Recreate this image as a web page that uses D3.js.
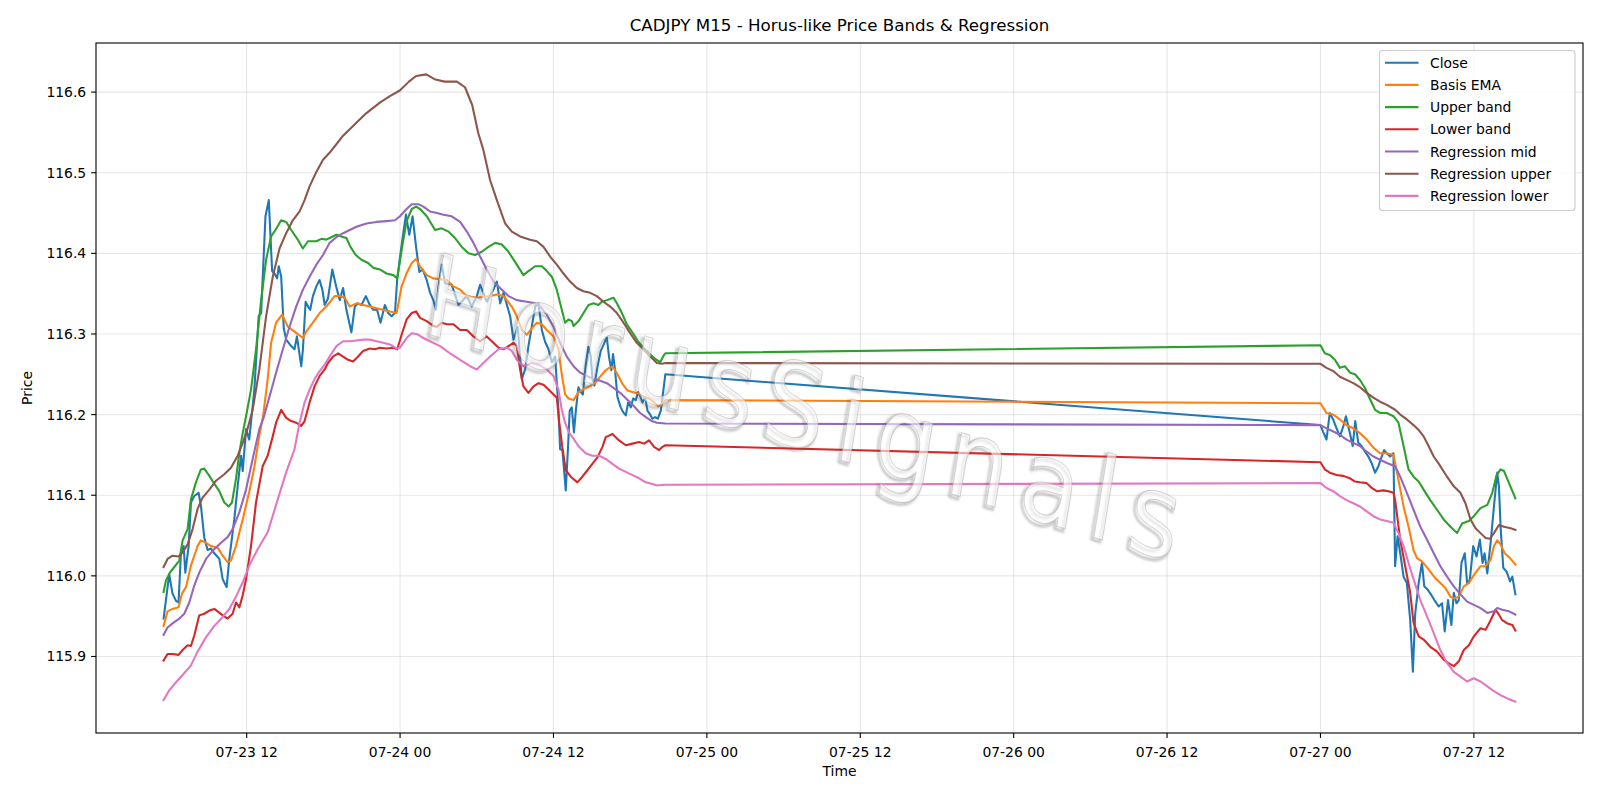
<!DOCTYPE html>
<html><head><meta charset="utf-8">
<script src="https://cdn.jsdelivr.net/npm/d3@7/dist/d3.min.js"></script>
<style>html,body{margin:0;padding:0;background:#fff;}svg{display:block;font-family:"DejaVu Sans",sans-serif;}</style>
</head><body><svg id="c" width="1600" height="800"></svg>
<script>
// time = hours since 2025-07-23 00:00 (UTC); value = CADJPY price
const closeSeries = [[5.5,115.947],[5.94,116.002],[6.2,115.978],[6.47,115.969],[6.67,115.967],[6.86,116.029],[7.07,116.037],[7.2,116.004],[7.46,116.037],[7.64,116.091],[7.9,116.099],[8.24,116.103],[8.42,116.087],[8.68,116.048],[8.94,116.032],[9.2,116.034],[9.47,116.028],[9.86,116.021],[10.12,115.996],[10.43,115.986],[10.64,116.021],[11.03,116.07],[11.3,116.112],[11.56,116.149],[11.69,116.13],[11.95,116.182],[12.2,116.169],[12.6,116.231],[12.94,116.322],[13.13,116.326],[13.47,116.446],[13.73,116.466],[13.99,116.378],[14.17,116.375],[14.38,116.369],[14.51,116.384],[14.7,116.371],[14.9,116.307],[15.09,116.293],[15.48,116.285],[15.74,116.281],[15.93,116.297],[16.27,116.26],[16.4,116.281],[16.61,116.34],[16.8,116.334],[16.97,116.33],[17.18,116.347],[17.45,116.359],[17.7,116.367],[17.92,116.355],[18.1,116.336],[18.36,116.344],[18.7,116.38],[19.0,116.359],[19.28,116.342],[19.54,116.357],[19.8,116.33],[20.19,116.302],[20.46,116.334],[20.72,116.338],[20.98,116.336],[21.32,116.347],[21.63,116.336],[21.9,116.33],[22.2,116.33],[22.47,116.314],[22.81,116.336],[23.07,116.326],[23.34,116.322],[23.6,116.326],[23.78,116.369],[24.0,116.396],[24.25,116.425],[24.46,116.448],[24.72,116.423],[24.98,116.446],[25.25,116.408],[25.51,116.377],[25.77,116.38],[26.08,116.367],[26.35,116.351],[26.6,116.342],[26.8,116.33],[27.0,116.359],[27.26,116.386],[27.52,116.363],[28.04,116.361],[28.57,116.336],[29.22,116.347],[29.61,116.334],[30.0,116.347],[30.26,116.361],[30.78,116.34],[31.3,116.355],[31.57,116.365],[31.83,116.338],[32.09,116.351],[32.61,116.322],[32.87,116.293],[33.2,116.309],[33.39,116.271],[33.52,116.244],[33.78,116.256],[34.04,116.285],[34.3,116.309],[34.57,116.334],[34.83,116.338],[35.09,116.305],[35.35,116.29],[35.61,116.281],[35.87,116.265],[36.13,116.272],[36.39,116.206],[36.52,116.157],[36.7,116.156],[36.96,116.106],[37.14,116.16],[37.27,116.205],[37.43,116.209],[37.6,116.178],[37.75,116.205],[37.95,116.234],[38.13,116.228],[38.3,116.225],[38.52,116.261],[38.73,116.284],[38.91,116.273],[39.04,116.246],[39.2,116.236],[39.44,116.259],[39.7,116.279],[39.96,116.288],[40.17,116.296],[40.35,116.271],[40.53,116.255],[40.66,116.275],[40.82,116.255],[41.0,116.222],[41.26,116.209],[41.45,116.203],[41.66,116.199],[41.84,116.215],[42.05,116.209],[42.23,116.22],[42.44,116.218],[42.62,116.228],[42.8,116.222],[42.96,116.215],[43.17,116.222],[43.35,116.205],[43.53,116.201],[43.74,116.195],[43.95,116.197],[44.16,116.195],[44.4,116.205],[44.75,116.25],
[96.0,116.187],[96.2,116.179],[96.47,116.169],[96.73,116.202],[96.99,116.194],[97.26,116.183],[97.52,116.173],[97.78,116.185],[97.99,116.198],[98.25,116.181],[98.52,116.161],[98.72,116.192],[98.96,116.165],[99.22,116.161],[99.48,116.154],[99.75,116.148],[100.0,116.14],[100.27,116.128],[100.53,116.136],[100.79,116.148],[100.98,116.156],[101.19,116.152],[101.45,116.148],[101.71,116.152],[101.84,116.012],[102.03,116.049],[102.24,116.028],[102.5,115.999],[102.76,115.991],[103.02,115.945],[103.23,115.881],[103.41,115.953],[103.68,115.991],[103.94,116.016],[104.12,115.987],[104.38,115.983],[104.65,115.977],[104.91,115.97],[105.25,115.962],[105.51,115.966],[105.72,115.931],[105.98,115.97],[106.24,115.939],[106.43,115.979],[106.64,115.966],[106.82,115.97],[107.03,116.016],[107.29,116.028],[107.47,115.991],[107.68,115.995],[107.95,116.037],[108.21,116.024],[108.47,116.045],[108.68,116.016],[108.84,116.028],[109.05,116.003],[109.31,116.041],[109.57,116.086],[109.83,116.128],[109.96,116.111],[110.09,116.061],[110.3,116.01],[110.57,116.005],[110.83,115.993],[111.01,115.999],[111.25,115.977]];

const basisEma = [[5.5,115.938],[5.81,115.956],[6.2,115.959],[6.67,115.961],[6.94,115.978],[7.25,115.986],[7.64,116.013],[8.16,116.037],[8.42,116.044],[8.82,116.041],[9.21,116.037],[9.73,116.035],[10.12,116.025],[10.51,116.017],[10.77,116.019],[11.16,116.037],[11.69,116.07],[12.21,116.105],[12.6,116.135],[12.95,116.17],[13.3,116.2],[13.65,116.245],[13.91,116.289],[14.3,116.314],[14.77,116.324],[15.22,116.309],[15.74,116.303],[16.4,116.295],[16.66,116.303],[17.18,116.314],[17.71,116.326],[18.23,116.334],[18.88,116.347],[19.28,116.347],[19.67,116.345],[20.06,116.334],[20.59,116.338],[21.11,116.336],[21.63,116.334],[22.15,116.332],[22.68,116.33],[23.2,116.328],[23.73,116.326],[24.12,116.359],[24.5,116.375],[24.91,116.388],[25.25,116.393],[25.56,116.384],[26.08,116.373],[26.6,116.369],[27.1,116.368],[27.65,116.367],[28.17,116.359],[28.7,116.355],[29.22,116.347],[30.0,116.345],[31.04,116.347],[31.57,116.349],[32.09,116.347],[32.74,116.334],[33.13,116.322],[33.52,116.305],[33.91,116.299],[34.3,116.307],[34.7,116.314],[35.09,116.312],[35.48,116.305],[36.0,116.297],[36.39,116.281],[36.65,116.25],[36.91,116.225],[37.17,116.22],[37.57,116.218],[37.96,116.228],[38.4,116.232],[38.91,116.236],[39.3,116.24],[39.7,116.248],[40.09,116.255],[40.35,116.258],[40.66,116.259],[41.0,116.25],[41.4,116.238],[41.79,116.23],[42.18,116.228],[42.7,116.226],[43.09,116.222],[43.48,116.22],[43.87,116.215],[44.21,116.21],[44.45,116.212],[44.75,116.218],
[96.0,116.214],[96.47,116.202],[97.0,116.2],[97.52,116.194],[98.04,116.187],[98.57,116.183],[99.09,116.177],[99.62,116.169],[100.14,116.159],[100.66,116.152],[101.19,116.152],[101.71,116.15],[102.1,116.119],[102.5,116.086],[102.89,116.061],[103.28,116.032],[103.55,116.022],[103.94,116.018],[104.46,116.008],[104.99,115.997],[105.38,115.991],[105.77,115.985],[106.17,115.974],[106.43,115.972],[106.82,115.974],[107.21,115.987],[107.61,115.991],[108.0,116.001],[108.52,116.012],[108.92,116.012],[109.31,116.02],[109.57,116.037],[109.83,116.044],[110.09,116.039],[110.41,116.028],[110.83,116.022],[111.25,116.014]];

const upperBand = [[5.5,115.98],[5.68,115.994],[5.99,116.004],[6.34,116.011],[6.73,116.019],[6.99,116.044],[7.38,116.058],[7.64,116.095],[8.03,116.116],[8.42,116.132],[8.68,116.133],[9.08,116.124],[9.47,116.114],[9.86,116.105],[10.25,116.091],[10.59,116.086],[10.85,116.091],[11.16,116.12],[11.43,116.153],[11.69,116.177],[11.95,116.198],[12.34,116.231],[12.73,116.281],[13.13,116.342],[13.52,116.392],[13.91,116.421],[14.25,116.429],[14.7,116.441],[15.09,116.439],[15.48,116.429],[16.0,116.417],[16.4,116.406],[16.79,116.415],[17.45,116.415],[17.84,116.418],[18.23,116.417],[18.62,116.42],[19.02,116.423],[19.41,116.421],[19.8,116.419],[20.12,116.408],[20.53,116.398],[20.98,116.392],[21.5,116.388],[21.9,116.382],[22.42,116.38],[22.94,116.375],[23.47,116.373],[23.78,116.369],[24.12,116.404],[24.51,116.44],[24.91,116.455],[25.25,116.458],[25.56,116.455],[26.09,116.446],[26.74,116.429],[27.26,116.431],[27.78,116.427],[28.3,116.419],[28.83,116.408],[29.35,116.4],[29.87,116.398],[30.39,116.402],[30.91,116.408],[31.44,116.413],[31.96,116.411],[32.48,116.402],[33.13,116.386],[33.65,116.373],[34.04,116.378],[34.57,116.384],[35.09,116.384],[35.48,116.378],[35.87,116.371],[36.26,116.355],[36.65,116.33],[36.91,116.314],[37.17,116.318],[37.44,116.316],[37.57,116.31],[37.96,116.316],[38.35,116.326],[38.74,116.336],[39.13,116.338],[39.52,116.336],[39.78,116.34],[40.18,116.342],[40.7,116.345],[40.96,116.338],[41.35,116.326],[41.74,116.312],[42.26,116.3],[42.65,116.29],[43.04,116.283],[43.57,116.275],[43.96,116.269],[44.35,116.265],[44.61,116.273],[44.75,116.276],
[96.0,116.286],[96.34,116.276],[96.73,116.274],[97.13,116.268],[97.52,116.258],[97.91,116.26],[98.31,116.252],[98.7,116.25],[99.09,116.243],[99.48,116.233],[99.88,116.219],[100.27,116.206],[100.66,116.202],[101.19,116.202],[101.71,116.198],[102.1,116.19],[102.5,116.161],[102.89,116.132],[103.28,116.123],[103.68,116.117],[104.07,116.107],[104.59,116.094],[105.12,116.082],[105.64,116.07],[106.17,116.061],[106.69,116.053],[107.08,116.065],[107.61,116.068],[108.0,116.074],[108.52,116.084],[109.05,116.088],[109.44,116.103],[109.78,116.125],[110.09,116.132],[110.36,116.13],[110.75,116.115],[111.25,116.096]];

const lowerBand = [[5.5,115.895],[5.81,115.903],[6.2,115.903],[6.67,115.902],[6.99,115.908],[7.38,115.914],[7.64,115.913],[7.9,115.926],[8.29,115.951],[8.68,115.953],[9.08,115.957],[9.47,115.959],[9.73,115.956],[10.12,115.951],[10.51,115.947],[10.9,115.953],[11.16,115.967],[11.43,115.961],[11.69,115.976],[11.95,115.996],[12.34,116.037],[12.73,116.091],[13.25,116.136],[13.64,116.149],[14.04,116.173],[14.3,116.19],[14.7,116.206],[15.09,116.196],[15.48,116.192],[15.87,116.19],[16.27,116.186],[16.53,116.192],[16.92,116.215],[17.31,116.235],[17.71,116.248],[18.1,116.256],[18.36,116.264],[18.75,116.272],[19.15,116.276],[19.54,116.272],[19.93,116.268],[20.32,116.266],[20.72,116.272],[21.11,116.279],[21.63,116.282],[22.03,116.281],[22.42,116.283],[22.94,116.282],[23.47,116.283],[23.78,116.281],[24.12,116.299],[24.51,116.318],[24.91,116.326],[25.25,116.328],[25.56,116.32],[26.08,116.316],[26.6,116.31],[26.87,116.309],[27.26,116.314],[27.65,116.312],[28.17,116.312],[28.7,116.305],[29.22,116.305],[29.74,116.297],[30.26,116.291],[30.78,116.297],[31.3,116.289],[31.7,116.283],[32.09,116.281],[32.48,116.285],[32.87,116.289],[33.13,116.285],[33.39,116.256],[33.65,116.235],[34.04,116.227],[34.44,116.235],[34.83,116.239],[35.22,116.237],[35.61,116.231],[36.0,116.225],[36.26,116.221],[36.45,116.19],[36.69,116.16],[36.96,116.131],[37.35,116.123],[37.87,116.116],[38.26,116.123],[38.65,116.131],[39.04,116.139],[39.44,116.147],[39.83,116.16],[40.09,116.172],[40.35,116.174],[40.61,116.176],[41.13,116.168],[41.66,116.162],[42.18,116.164],[42.7,116.166],[43.09,116.164],[43.48,116.168],[43.87,116.16],[44.27,116.156],[44.53,116.16],[44.75,116.162],
[96.0,116.141],[96.34,116.132],[96.73,116.128],[97.26,116.125],[97.78,116.124],[98.31,116.121],[98.7,116.117],[99.09,116.116],[99.62,116.115],[100.01,116.109],[100.4,116.105],[100.93,116.106],[101.32,116.105],[101.71,116.103],[101.84,116.094],[102.24,116.045],[102.63,116.012],[103.02,115.979],[103.28,115.942],[103.68,115.925],[104.07,115.921],[104.59,115.912],[105.12,115.906],[105.64,115.896],[105.98,115.892],[106.43,115.888],[106.82,115.894],[107.21,115.908],[107.61,115.914],[108.0,115.925],[108.52,115.935],[108.92,115.933],[109.31,115.945],[109.7,115.958],[109.96,115.952],[110.22,115.945],[110.62,115.941],[111.01,115.939],[111.25,115.932]];

const regMid = [[5.5,115.927],[5.81,115.936],[6.2,115.941],[6.73,115.947],[7.12,115.953],[7.51,115.967],[7.9,115.988],[8.29,116.004],[8.82,116.021],[9.34,116.031],[9.99,116.041],[10.51,116.048],[10.9,116.058],[11.43,116.079],[11.95,116.107],[12.47,116.145],[12.99,116.182],[13.3,116.195],[13.78,116.222],[14.3,116.252],[14.83,116.281],[15.35,116.309],[15.87,116.334],[16.4,116.355],[16.92,116.371],[17.45,116.386],[17.97,116.398],[18.49,116.413],[19.02,116.42],[19.54,116.425],[20.06,116.429],[20.59,116.433],[21.37,116.437],[22.16,116.439],[22.94,116.44],[23.6,116.441],[23.99,116.446],[24.51,116.455],[24.91,116.461],[25.43,116.461],[25.82,116.458],[26.34,116.452],[26.9,116.45],[27.39,116.448],[28.04,116.446],[28.7,116.439],[29.22,116.427],[29.74,116.413],[30.26,116.396],[30.78,116.38],[31.3,116.365],[31.96,116.355],[32.48,116.347],[33.13,116.342],[33.91,116.34],[34.57,116.338],[34.96,116.334],[35.48,116.324],[36.0,116.309],[36.52,116.289],[37.04,116.272],[37.57,116.26],[38.09,116.252],[38.61,116.248],[39.13,116.244],[39.65,116.242],[40.18,116.239],[40.7,116.233],[41.22,116.227],[41.74,116.219],[42.26,116.211],[42.78,116.202],[43.31,116.196],[43.7,116.192],[44.09,116.19],[44.75,116.189],
[96.0,116.187],[96.47,116.183],[97.0,116.179],[97.52,116.175],[98.04,116.169],[98.57,116.165],[99.09,116.161],[99.62,116.154],[100.14,116.148],[100.66,116.144],[101.19,116.14],[101.84,116.136],[102.24,116.123],[102.76,116.103],[103.28,116.082],[103.81,116.061],[104.33,116.045],[104.86,116.028],[105.38,116.012],[105.9,115.999],[106.43,115.987],[106.95,115.977],[107.47,115.968],[108.0,115.964],[108.52,115.96],[109.05,115.954],[109.57,115.956],[109.83,115.96],[110.22,115.958],[110.75,115.956],[111.25,115.952]];

const regUpper = [[5.5,116.011],[5.81,116.021],[6.2,116.025],[6.67,116.024],[6.99,116.029],[7.38,116.039],[7.77,116.058],[8.16,116.083],[8.55,116.097],[9.08,116.107],[9.6,116.118],[10.25,116.126],[10.77,116.134],[11.3,116.149],[11.69,116.165],[12.08,116.183],[12.47,116.206],[12.99,116.256],[13.52,116.322],[14.04,116.371],[14.57,116.406],[15.09,116.425],[15.61,116.441],[16.14,116.452],[16.53,116.466],[16.92,116.483],[17.45,116.501],[17.97,116.516],[18.5,116.525],[19.0,116.535],[19.54,116.546],[20.46,116.56],[21.37,116.574],[22.42,116.587],[23.2,116.595],[23.98,116.602],[24.69,116.613],[25.25,116.62],[26.05,116.622],[26.69,116.616],[27.48,116.613],[28.44,116.613],[29.08,116.606],[29.64,116.584],[30.12,116.549],[30.52,116.528],[31.04,116.491],[31.57,116.466],[32.22,116.437],[32.74,116.427],[33.39,116.421],[34.17,116.417],[34.7,116.415],[35.22,116.408],[35.74,116.396],[36.26,116.386],[36.78,116.375],[37.3,116.365],[37.83,116.357],[38.35,116.353],[38.87,116.351],[39.39,116.347],[39.91,116.34],[40.44,116.334],[40.96,116.326],[41.48,116.314],[42.0,116.301],[42.52,116.289],[43.04,116.281],[43.57,116.272],[44.09,116.264],[44.48,116.263],[44.75,116.264],
[96.0,116.263],[96.47,116.258],[97.0,116.254],[97.52,116.247],[98.04,116.243],[98.57,116.239],[99.09,116.234],[99.62,116.227],[100.14,116.221],[100.66,116.216],[101.19,116.212],[101.84,116.206],[102.24,116.2],[102.76,116.194],[103.28,116.187],[103.68,116.181],[104.07,116.173],[104.46,116.161],[104.86,116.148],[105.38,116.136],[105.9,116.123],[106.43,116.111],[106.95,116.103],[107.34,116.09],[107.74,116.07],[108.13,116.059],[108.52,116.053],[108.92,116.047],[109.26,116.046],[109.57,116.053],[109.96,116.063],[110.36,116.061],[110.88,116.059],[111.25,116.057]];

const regLower = [[5.5,115.846],[5.94,115.858],[6.47,115.868],[6.99,115.877],[7.64,115.889],[8.16,115.906],[8.82,115.924],[9.47,115.938],[10.12,115.949],[10.64,115.959],[11.16,115.974],[11.69,115.992],[12.21,116.013],[12.86,116.033],[13.64,116.054],[14.3,116.088],[15.08,116.128],[15.74,116.157],[16.14,116.19],[16.53,116.215],[16.92,116.231],[17.31,116.244],[17.71,116.254],[18.1,116.262],[18.49,116.272],[19.02,116.285],[19.54,116.291],[20.06,116.291],[20.59,116.292],[21.11,116.293],[21.63,116.293],[22.16,116.291],[22.68,116.289],[23.2,116.287],[23.73,116.282],[24.0,116.283],[24.51,116.295],[24.91,116.301],[25.3,116.3],[25.82,116.295],[26.34,116.291],[27.13,116.285],[27.91,116.276],[28.7,116.268],[29.48,116.26],[30.0,116.256],[30.52,116.264],[31.04,116.272],[31.7,116.281],[32.35,116.283],[32.74,116.279],[33.13,116.268],[33.65,116.26],[34.3,116.264],[34.83,116.262],[35.48,116.256],[36.0,116.248],[36.39,116.231],[36.65,116.206],[36.91,116.19],[37.2,116.178],[37.48,116.172],[38.0,116.16],[38.52,116.152],[39.04,116.149],[39.57,116.149],[40.09,116.145],[40.61,116.139],[41.13,116.133],[41.66,116.129],[42.18,116.125],[42.7,116.121],[43.22,116.116],[43.74,116.114],[44.13,116.112],[44.75,116.113],
[96.0,116.115],[96.47,116.109],[97.0,116.105],[97.52,116.099],[98.04,116.094],[98.57,116.09],[99.09,116.086],[99.62,116.08],[100.14,116.074],[100.66,116.07],[101.19,116.068],[101.71,116.066],[102.1,116.053],[102.5,116.037],[102.89,116.016],[103.28,115.996],[103.81,115.97],[104.33,115.95],[104.86,115.929],[105.38,115.908],[105.9,115.892],[106.43,115.881],[106.95,115.875],[107.47,115.869],[108.0,115.873],[108.52,115.869],[109.05,115.863],[109.57,115.857],[110.09,115.852],[110.62,115.848],[111.25,115.844]];

const seriesNames = ["Close","Basis EMA","Upper band","Lower band","Regression mid","Regression upper","Regression lower"];
const seriesColors = ["#1f77b4","#ff7f0e","#2ca02c","#d62728","#9467bd","#8c564b","#e377c2"];
const yTickValues = [115.9,116.0,116.1,116.2,116.3,116.4,116.5,116.6];
const titleText = "CADJPY M15 - Horus-like Price Bands & Regression";
const xLabel = "Time", yLabel = "Price", watermark = "HorusSignals";

const allSeries = [closeSeries, basisEma, upperBand, lowerBand, regMid, regUpper, regLower];
const BASE = Date.UTC(2025, 6, 23, 0, 0);
const toDate = h => new Date(BASE + h * 3600e3);

const m = {left: 96, right: 1583, top: 43, bottom: 733};
const svg = d3.select("#c");

const allPts = allSeries.flat();
const hExt = d3.extent(allPts, d => d[0]);
const vExt = d3.extent(allPts, d => d[1]);
const hPad = (hExt[1] - hExt[0]) * 0.05, vPad = (vExt[1] - vExt[0]) * 0.05;

const x = d3.scaleUtc().domain([toDate(hExt[0] - hPad), toDate(hExt[1] + hPad)]).range([m.left, m.right]);
const y = d3.scaleLinear().domain([vExt[0] - vPad, vExt[1] + vPad]).range([m.bottom, m.top]);

const xTicks = d3.utcHour.every(12).range(x.domain()[0], x.domain()[1]);
const fmt = d3.utcFormat("%m-%d %H");

// grid
const grid = svg.append("g");
grid.selectAll("line.gx").data(xTicks).join("line")
  .attr("x1", d => x(d)).attr("x2", d => x(d)).attr("y1", m.top).attr("y2", m.bottom)
  .attr("stroke", "#b0b0b0").attr("stroke-opacity", 0.3).attr("stroke-width", 1.1);
grid.selectAll("line.gy").data(yTickValues).join("line")
  .attr("y1", d => y(d)).attr("y2", d => y(d)).attr("x1", m.left).attr("x2", m.right)
  .attr("stroke", "#b0b0b0").attr("stroke-opacity", 0.3).attr("stroke-width", 1.1);

// lines
svg.append("clipPath").attr("id", "clipA").append("rect")
  .attr("x", m.left).attr("y", m.top).attr("width", m.right - m.left).attr("height", m.bottom - m.top);
const line = d3.line().x(d => x(toDate(d[0]))).y(d => y(d[1]));
const lg = svg.append("g").attr("clip-path", "url(#clipA)");
allSeries.forEach((s, i) => {
  lg.append("path").datum(s).attr("d", line).attr("fill", "none")
    .attr("stroke", seriesColors[i]).attr("stroke-width", 2.08)
    .attr("stroke-linejoin", "round").attr("stroke-linecap", "square");
});

// watermark
const defs = svg.append("defs");
const f = defs.append("filter").attr("id", "soft").attr("x", "-10%").attr("y", "-10%").attr("width", "120%").attr("height", "120%");
f.append("feGaussianBlur").attr("stdDeviation", 1.2);
const wmLen = (1178 - 428) / 0.8;
const wm = svg.append("g").attr("transform", "translate(428,334) skewY(17) scale(0.8,1)");
wm.append("text").text(watermark).attr("x", -3).attr("y", 3)
  .attr("font-size", 118).attr("font-style", "italic").attr("textLength", wmLen).attr("lengthAdjust", "spacing")
  .attr("fill", "none").attr("stroke", "#555").attr("stroke-opacity", 0.35).attr("stroke-width", 3)
  .attr("filter", "url(#soft)");
wm.append("text").text(watermark)
  .attr("font-size", 118).attr("font-style", "italic").attr("textLength", wmLen).attr("lengthAdjust", "spacing")
  .attr("fill", "#fff").attr("fill-opacity", 0.6).attr("stroke", "#aaa").attr("stroke-opacity", 0.5).attr("stroke-width", 1);

// frame
svg.append("rect").attr("x", m.left).attr("y", m.top).attr("width", m.right - m.left).attr("height", m.bottom - m.top)
  .attr("fill", "none").attr("stroke", "#000").attr("stroke-width", 1.1);

// x axis
const xa = svg.append("g");
xa.selectAll("line").data(xTicks).join("line")
  .attr("x1", d => x(d)).attr("x2", d => x(d)).attr("y1", m.bottom).attr("y2", m.bottom + 4.9)
  .attr("stroke", "#000").attr("stroke-width", 1.1);
xa.selectAll("text").data(xTicks).join("text")
  .attr("x", d => x(d)).attr("y", 756.5).attr("text-anchor", "middle")
  .attr("font-size", 13.9).attr("fill", "#000").text(d => fmt(d));

// y axis
const ya = svg.append("g");
ya.selectAll("line").data(yTickValues).join("line")
  .attr("x1", m.left - 4.9).attr("x2", m.left).attr("y1", d => y(d)).attr("y2", d => y(d))
  .attr("stroke", "#000").attr("stroke-width", 1.1);
ya.selectAll("text").data(yTickValues).join("text")
  .attr("x", m.left - 9.8).attr("y", d => y(d) + 5).attr("text-anchor", "end")
  .attr("font-size", 13.9).attr("fill", "#000").text(d => d3.format(".1f")(d));

// labels
svg.append("text").attr("x", (m.left + m.right) / 2).attr("y", 31).attr("text-anchor", "middle")
  .attr("font-size", 16.7).attr("fill", "#000").text(titleText);
svg.append("text").attr("x", (m.left + m.right) / 2).attr("y", 776).attr("text-anchor", "middle")
  .attr("font-size", 13.9).attr("fill", "#000").text(xLabel);
svg.append("text").attr("transform", `translate(32,${(m.top + m.bottom) / 2}) rotate(-90)`).attr("text-anchor", "middle")
  .attr("font-size", 13.9).attr("fill", "#000").text(yLabel);

// legend
const leg = svg.append("g");
leg.append("rect").attr("x", 1379.5).attr("y", 50.5).attr("width", 195.5).attr("height", 160).attr("rx", 3)
  .attr("fill", "#fff").attr("fill-opacity", 0.8).attr("stroke", "#cccccc").attr("stroke-width", 1.1);
seriesNames.forEach((n, i) => {
  const yy = 62.7 + i * 22.2;
  leg.append("line").attr("x1", 1385).attr("x2", 1418.5).attr("y1", yy).attr("y2", yy)
    .attr("stroke", seriesColors[i]).attr("stroke-width", 2.08);
  leg.append("text").attr("x", 1430).attr("y", yy + 5).attr("font-size", 13.9).attr("fill", "#000").text(n);
});
</script></body></html>
